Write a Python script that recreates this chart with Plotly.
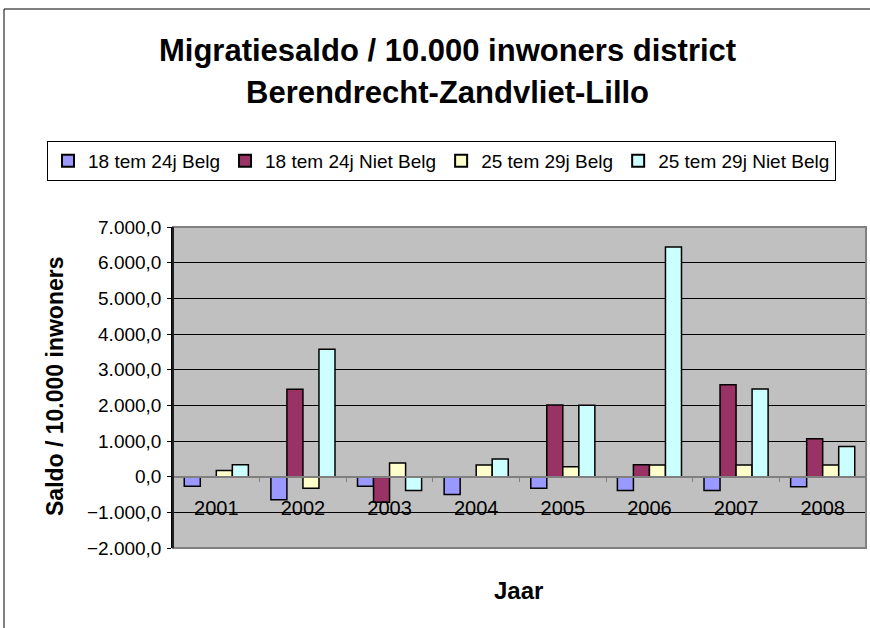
import plotly.graph_objects as go

years = ["2001", "2002", "2003", "2004", "2005", "2006", "2007", "2008"]
belg_18_24 = [-270, -650, -270, -500, -325, -390, -390, -280]
nietbelg_18_24 = [0, 2450, -715, 0, 2010, 335, 2575, 1060]
belg_25_29 = [170, -325, 380, 325, 280, 330, 330, 330]
nietbelg_25_29 = [335, 3570, -390, 495, 2000, 6440, 2460, 845]

series_names = ["18 tem 24j Belg", "18 tem 24j Niet Belg", "25 tem 29j Belg", "25 tem 29j Niet Belg"]
series_values = [belg_18_24, nietbelg_18_24, belg_25_29, nietbelg_25_29]
series_colors = ["#9999FF", "#993366", "#FFFFCC", "#CCFFFF"]

FONT = "Liberation Sans, Arial, sans-serif"
W, H = 870, 628
L, R, T, B = 173, 4, 227, 80
pw, ph = W - L - R, H - T - B

def px(x):
    return (x - L) / pw

def py(y):
    return (H - B - y) / ph

fig = go.Figure()
for name, vals, col in zip(series_names, series_values, series_colors):
    fig.add_trace(go.Bar(
        x=years, y=vals, name=name,
        marker=dict(color=col, line=dict(color="black", width=1.5)),
    ))

ymin, ymax = -2000, 7000
fig.update_layout(
    width=W, height=H,
    margin=dict(l=L, r=R, t=T, b=B),
    paper_bgcolor="white",
    plot_bgcolor="#C0C0C0",
    barmode="group",
    bargap=0.26,
    bargroupgap=0,
    separators=",.",
    font=dict(family=FONT, size=19, color="black"),
    showlegend=True,
    legend=dict(
        orientation="h",
        x=px(47), y=py(141), xanchor="left", yanchor="top",
        bordercolor="black", borderwidth=1, bgcolor="white",
        font=dict(family=FONT, size=19, color="black"),
        itemsizing="constant",
    ),
    yaxis=dict(
        range=[ymin, ymax], dtick=1000, tickformat=",.1f",
        showgrid=True, gridcolor="black", gridwidth=1,
        zeroline=False,
        showline=True, linecolor="black", linewidth=1.5,
        ticks="outside", ticklen=4, tickcolor="black",
        ticklabelstandoff=2,
        tickfont=dict(family=FONT, size=19, color="black"),
        fixedrange=True,
    ),
    xaxis=dict(
        type="category",
        anchor="free", position=(0 - ymin) / (ymax - ymin),
        showline=True, linecolor="#808080", linewidth=1.5,
        ticks="outside", ticklen=5, tickcolor="#808080", tickson="boundaries",
        showgrid=False, zeroline=False,
        ticklabelstandoff=14,
        tickfont=dict(family=FONT, size=20, color="black"),
        fixedrange=True,
    ),
    shapes=[
        dict(type="rect", xref="paper", yref="paper", x0=0, x1=1, y0=0, y1=1,
             line=dict(color="#808080", width=2), layer="above"),
        dict(type="line", xref="paper", yref="paper", x0=0, x1=0, y0=0, y1=1,
             line=dict(color="black", width=1.5), layer="above"),
        dict(type="rect", xref="paper", yref="paper", x0=px(4), x1=px(890), y0=py(640), y1=py(9),
             line=dict(color="black", width=1), layer="below"),
    ],
    annotations=[
        dict(text="<b>Migratiesaldo / 10.000 inwoners district</b>", xref="paper", yref="paper",
             x=px(447), y=py(50), xanchor="center", yanchor="middle", showarrow=False,
             font=dict(family=FONT, size=31, color="black")),
        dict(text="<b>Berendrecht-Zandvliet-Lillo</b>", xref="paper", yref="paper",
             x=px(447), y=py(93), xanchor="center", yanchor="middle", showarrow=False,
             font=dict(family=FONT, size=31, color="black")),
        dict(text="<b>Saldo / 10.000 inwoners</b>", xref="paper", yref="paper",
             x=px(55), y=py(386), xanchor="center", yanchor="middle", showarrow=False,
             textangle=-90, font=dict(family=FONT, size=23, color="black")),
        dict(text="<b>Jaar</b>", xref="paper", yref="paper",
             x=px(518), y=py(590), xanchor="center", yanchor="middle", showarrow=False,
             font=dict(family=FONT, size=24, color="black")),
    ],
)

fig.write_html("out.html", config={"displayModeBar": False},
               post_script="document.body.style.margin='0';")
